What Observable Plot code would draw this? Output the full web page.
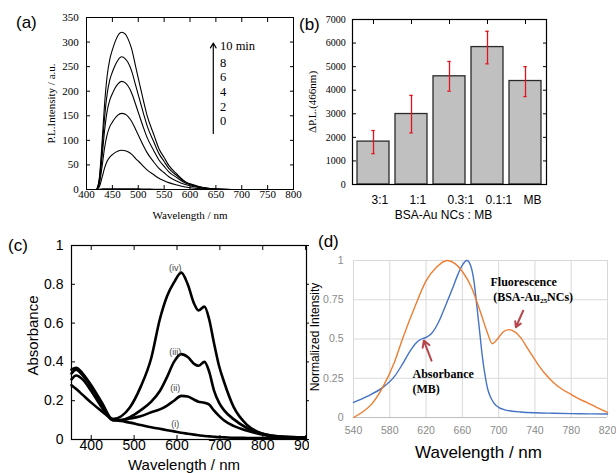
<!DOCTYPE html>
<html><head><meta charset="utf-8">
<script src="https://cdn.jsdelivr.net/npm/d3@7"></script>
<script src="https://cdn.jsdelivr.net/npm/@observablehq/plot@0.6"></script>
<style>
body{margin:0;background:#fff}
#root{position:relative;width:616px;height:473px;overflow:hidden;background:#fff}
.lab{position:absolute;font-family:"Liberation Sans",Arial,sans-serif;font-size:17px;line-height:20px;color:#000;white-space:nowrap}
</style></head><body><div id="root"></div>
<script>
// ---------- Panel (a) data ----------
const aWave = [420,425,430,435,440,445,450,455,460,468,475,480,487,495,501,510,517,530,540,550,559,575,591,605,617,635,650,680,720,800];
const aMin10 = [0,25,95,175,232,265,284,300,312,320,316,307,287,250,222,181,151,112,83,65,49,31,16,10,6,2.5,1,0,0,0];
const aMin8  = [0,21,80,147,195,223,239,252,262,270,266,259,242,212,189,155,130,97,73,57,43,28,15,9,5.5,2.5,1,0,0,0];
const aMin6  = [0,17,65,120,160,182,195,206,214,220,217,211,197,173,154,126,106,79,60,47,36,24,13,8,5,2,1,0,0,0];
const aMin4  = [0,12,46,85,112,128,137,145,151,155,153,149,139,122,109,89,75,56,43,34,26,17,10,6,4,1.5,0.5,0,0,0];
const aMin2  = [0,6,24,44,58,66,71,75,78,80,79,77,72,63,57,47,40,30,23,18,14,9,5,3,2,1,0,0,0,0];
const aMin0  = [0,0.5,1,1.5,1.5,1.5,1.5,1.5,1.5,1.5,1.5,1.5,1.5,1.5,1.2,1,0.8,0.5,0.3,0,0,0,0,0,0,0,0,0,0,0];
const aTicksX = [400,450,500,550,600,650,700,750,800];
const aTicksY = [0,50,100,150,200,250,300,350];
const aTimeLabels = ["10 min","8","6","4","2","0"];
const aTimeLabelY = [291,258,228,198,168,139];
const aArrow = [{x1:645,y1:114,x2:645,y2:298}];

// ---------- Panel (b) data ----------
const bCats = ["3:1","1:1","0.3:1","0.1:1","MB"];
const bVals = [1820,2990,4590,5830,4390];
const bLo   = [1310,2190,3960,5120,3730];
const bHi   = [2290,3780,5220,6500,5000];
const bTicksY = [0,1000,2000,3000,4000,5000,6000,7000];

// ---------- Panel (c) data ----------
const cWave = [354,365,380,400,425,450,470,490,515,540,560,577,593,610,625,640,650,664,675,686,698,710,732,764,800,840,900];
const cIV  = [0.36,0.37,0.34,0.28,0.19,0.105,0.12,0.165,0.27,0.42,0.62,0.74,0.81,0.86,0.80,0.70,0.665,0.685,0.62,0.50,0.38,0.295,0.168,0.074,0.03,0.015,0.01];
const cIII = [0.34,0.36,0.33,0.27,0.18,0.10,0.10,0.115,0.15,0.195,0.25,0.323,0.40,0.44,0.425,0.39,0.38,0.40,0.35,0.255,0.19,0.15,0.105,0.058,0.03,0.015,0.01];
const cII  = [0.31,0.33,0.31,0.25,0.165,0.10,0.10,0.108,0.12,0.14,0.155,0.175,0.20,0.225,0.222,0.205,0.195,0.19,0.18,0.15,0.122,0.098,0.07,0.045,0.025,0.012,0.008];
const cI   = [0.28,0.26,0.23,0.19,0.145,0.105,0.095,0.087,0.075,0.063,0.055,0.048,0.042,0.035,0.03,0.025,0.022,0.018,0.016,0.014,0.012,0.011,0.009,0.008,0.007,0.006,0.005];
const cTicksX = [400,500,600,700,800,900];
const cTicksY = [0,0.2,0.4,0.6,0.8,1];
const cLabels = ["(iv)","(iii)","(ii)","(i)"];
const cLabelY = [0.886,0.449,0.263,0.077];
const cLabelX = 596;

// ---------- Panel (d) data ----------
const dAbsWave = [540,555,572,585,594,602,609,615,620,626,634,642,649,655,660,665,669,673,676,679,682,685,688,691,695,700,706,715,724,740,760,790,820];
const dAbs = [0.096,0.135,0.19,0.26,0.34,0.42,0.475,0.50,0.51,0.535,0.61,0.72,0.82,0.91,0.97,1.0,0.97,0.86,0.71,0.55,0.39,0.27,0.18,0.13,0.09,0.065,0.05,0.04,0.035,0.03,0.027,0.024,0.022];
const dFlWave = [540,550,560,572,585,594,608,620,632,643,652,660,670,680,687,693,700,705,711,718,724,733,742,751,761,770,779,788,797,808,820];
const dFl = [0.0,0.035,0.085,0.19,0.35,0.50,0.71,0.87,0.96,1.0,0.98,0.93,0.83,0.67,0.55,0.47,0.51,0.545,0.56,0.545,0.51,0.43,0.35,0.28,0.22,0.18,0.15,0.12,0.096,0.065,0.032];
const dTicksX = [540,580,620,660,700,740,780,820];
const dTicksY = [0,0.25,0.5,0.75,1];
const dNotes = [
  {x:691, y:0.86, t:"Fluorescence"},
  {x:694, y:0.765, t:"(BSA-Au\u2082\u2085NCs)"},
  {x:605, y:0.279, t:"Absorbance"},
  {x:605, y:0.183, t:"(MB)"}
];
const dArrows = [
  {x1:727, y1:0.68, x2:719, y2:0.575},
  {x1:626, y1:0.362, x2:617.5, y2:0.49}
];

// ---------- build ----------
const root = document.getElementById("root");
const SERIF = "'Liberation Serif','Times New Roman',serif";
const SANS = "'Liberation Sans',Arial,sans-serif";
const fmt = d => String(d);
const blank = () => "";
const MID = {textAnchor: "middle", lineAnchor: "middle"};
function place(el, left, top) {
  el.style.position = "absolute";
  el.style.left = left + "px";
  el.style.top = top + "px";
  root.appendChild(el);
}
function label(txt, left, top) {
  const d = document.createElement("div");
  d.className = "lab"; d.textContent = txt;
  d.style.left = left + "px"; d.style.top = top + "px";
  root.appendChild(d);
}

// Panel (a)
const aTable = [];
[["10",aMin10],["8",aMin8],["6",aMin6],["4",aMin4],["2",aMin2],["0",aMin0]].forEach(([t, arr]) =>
  arr.forEach((v, i) => aTable.push({t, w: aWave[i], v})));
const aText = aTimeLabels.map((t, i) => ({t, y: aTimeLabelY[i]}));
const pa = Plot.plot({
  width: 305, height: 225,
  marginLeft: 86, marginRight: 12, marginTop: 17, marginBottom: 36,
  style: {fontFamily: SERIF, fontSize: "11px", color: "#000", background: "transparent", overflow: "visible"},
  x: {domain: [400, 800]},
  y: {domain: [0, 350]},
  marks: [
    Plot.line(aTable, {x: "w", y: "v", z: "t", stroke: "#000", strokeWidth: 1.1, curve: "monotone-x"}),
    Plot.frame({stroke: "#000"}),
    Plot.axisX({ticks: aTicksX, tickSize: -4, tickPadding: 5, tickFormat: fmt, label: null}),
    Plot.axisX({anchor: "top", ticks: aTicksX, tickSize: -4, tickFormat: blank, label: null}),
    Plot.axisY({ticks: aTicksY, tickSize: -4, tickPadding: 11.7, tickFormat: fmt, label: null}),
    Plot.axisY({anchor: "right", ticks: aTicksY, tickSize: -4, tickFormat: blank, label: null}),
    Plot.text(["Wavelength / nm"], {text: d => d, frameAnchor: "bottom", dy: 26, fontSize: 11, ...MID}),
    Plot.text(["P.L.Intensity / a.u."], {text: d => d, frameAnchor: "left", rotate: -90, dx: -35, fontSize: 11, ...MID}),
    Plot.arrow(aArrow, {x1: "x1", y1: "y1", x2: "x2", y2: "y2", stroke: "#000", strokeWidth: 1.2, headLength: 7}),
    Plot.text(aText, {x: 658, y: "y", text: "t", textAnchor: "start", fontSize: 12.5})
  ]
});
place(pa, 0, 0);

// Panel (b)
const bTable = bCats.map((c, i) => ({c, v: bVals[i], lo: bLo[i], hi: bHi[i]}));
const RED = "#e3131b";
const pb = Plot.plot({
  width: 311, height: 225,
  marginLeft: 47, marginRight: 70, marginTop: 19, marginBottom: 41,
  style: {fontFamily: SERIF, fontSize: "10px", color: "#000", background: "transparent", overflow: "visible"},
  x: {domain: bCats, paddingInner: 0.17, paddingOuter: 0.085},
  y: {domain: [0, 7000]},
  marks: [
    Plot.barY(bTable, {x: "c", y: "v", fill: "#c0c0c0", stroke: "#2a2a2a", strokeWidth: 1.3}),
    Plot.ruleX(bTable, {x: "c", y1: "lo", y2: "hi", stroke: RED, strokeWidth: 1.3}),
    Plot.tickY(bTable, {x: "c", y: "hi", stroke: RED, strokeWidth: 1.3, insetLeft: 14.3, insetRight: 14.3}),
    Plot.tickY(bTable, {x: "c", y: "lo", stroke: RED, strokeWidth: 1.3, insetLeft: 14.3, insetRight: 14.3}),
    Plot.frame({stroke: "#000", strokeWidth: 1.2}),
    Plot.axisX({tickSize: 0, tickPadding: 11, textAnchor: "start", dx: -2, fontFamily: SANS, fontSize: 12, label: null}),
    Plot.axisX({anchor: "top", tickSize: -4, tickFormat: blank, label: null}),
    Plot.axisY({ticks: bTicksY, tickSize: -4, tickPadding: 10.7, tickFormat: fmt, label: null}),
    Plot.axisY({anchor: "right", ticks: bTicksY, tickSize: -4, tickFormat: blank, label: null}),
    Plot.text(["BSA-Au NCs : MB"], {text: d => d, frameAnchor: "bottom", dx: -6, dy: 31, fontFamily: SANS, fontSize: 12, ...MID}),
    Plot.text(["\u0394P.L.(466nm)"], {text: d => d, frameAnchor: "left", rotate: -90, dx: -40, fontSize: 11, ...MID})
  ]
});
place(pb, 305, 0);

// Panel (d)
const dTable = [];
dAbsWave.forEach((w, i) => dTable.push({s: "abs", w, v: dAbs[i]}));
dFlWave.forEach((w, i) => dTable.push({s: "fl", w, v: dFl[i]}));
const GRAYTXT = "#8a8a8a";
const pd = Plot.plot({
  width: 311, height: 248,
  marginLeft: 48, marginRight: 9, marginTop: 35, marginBottom: 56,
  style: {fontFamily: SANS, fontSize: "10.5px", color: "#000", background: "transparent", overflow: "visible"},
  x: {domain: [540, 820]},
  y: {domain: [0, 1]},
  color: {domain: ["abs", "fl"], range: ["#4472c4", "#ed7d31"]},
  marks: [
    Plot.gridX(dTicksX, {stroke: "#d9d9d9", strokeOpacity: 1}),
    Plot.gridY(dTicksY, {stroke: "#d9d9d9", strokeOpacity: 1}),
    Plot.ruleY([0], {stroke: "#bfbfbf"}),
    Plot.line(dTable, {x: "w", y: "v", z: "s", stroke: "s", strokeWidth: 1.4, curve: "monotone-x"}),
    Plot.axisX({ticks: dTicksX, tickSize: 0, tickPadding: 9, tickFormat: fmt, fill: GRAYTXT, label: null}),
    Plot.axisY({ticks: dTicksY, tickSize: 0, tickPadding: 10, tickFormat: fmt, fill: GRAYTXT, label: null}),
    Plot.text(["Wavelength / nm"], {text: d => d, frameAnchor: "bottom", dx: -2, dy: 35, fontSize: 17, ...MID}),
    Plot.text(["Normalized Intensity"], {text: d => d, frameAnchor: "left", rotate: -90, dx: -38, dy: -2, fontSize: 12, ...MID}),
    Plot.arrow(dArrows, {x1: "x1", y1: "y1", x2: "x2", y2: "y2", stroke: "#b5464b", strokeWidth: 2, headLength: 7}),
    Plot.text(dNotes, {x: "x", y: "y", text: "t", textAnchor: "start", fontFamily: SERIF, fontWeight: "bold", fontSize: 12})
  ]
});
place(pd, 305, 225);

// Panel (c)
const cTable = [];
[["iv", cIV], ["iii", cIII], ["ii", cII], ["i", cI]].forEach(([s, arr]) =>
  arr.forEach((v, i) => cTable.push({s, w: cWave[i], v})));
const cText = cLabels.map((t, i) => ({t, y: cLabelY[i]}));
const pc = Plot.plot({
  width: 309, height: 248,
  marginLeft: 71, marginRight: 3, marginTop: 20, marginBottom: 34,
  style: {fontFamily: SANS, fontSize: "14px", color: "#000", background: "transparent", overflow: "hidden"},
  x: {domain: [354, 902]},
  y: {domain: [0, 1]},
  marks: [
    Plot.line(cTable, {x: "w", y: "v", z: "s", stroke: "#000", strokeWidth: 2.6, curve: "monotone-x"}),
    Plot.frame({stroke: "#000", strokeWidth: 1.2}),
    Plot.axisX({ticks: cTicksX, tickSize: -4, tickPadding: 5, tickFormat: fmt, label: null}),
    Plot.axisX({anchor: "top", ticks: cTicksX, tickSize: -4, tickFormat: blank, label: null}),
    Plot.axisY({ticks: cTicksY, tickSize: -4, tickPadding: 12, tickFormat: fmt, label: null}),
    Plot.axisY({anchor: "right", ticks: cTicksY, tickSize: 3, tickFormat: blank, label: null}),
    Plot.text(["Wavelength / nm"], {text: d => d, frameAnchor: "bottom", dx: -5, dy: 26, fontSize: 15, ...MID}),
    Plot.text(["Absorbance"], {text: d => d, frameAnchor: "left", rotate: -90, dx: -38, dy: -7, fontSize: 15, ...MID}),
    Plot.text(cText, {x: cLabelX, y: "y", text: "t", fill: "#444", fontSize: 9})
  ]
});
place(pc, 0, 225);

label("(a)", 16, 13);
label("(b)", 299, 15);
label("(c)", 8, 236);
label("(d)", 318, 232);
</script></body></html>
